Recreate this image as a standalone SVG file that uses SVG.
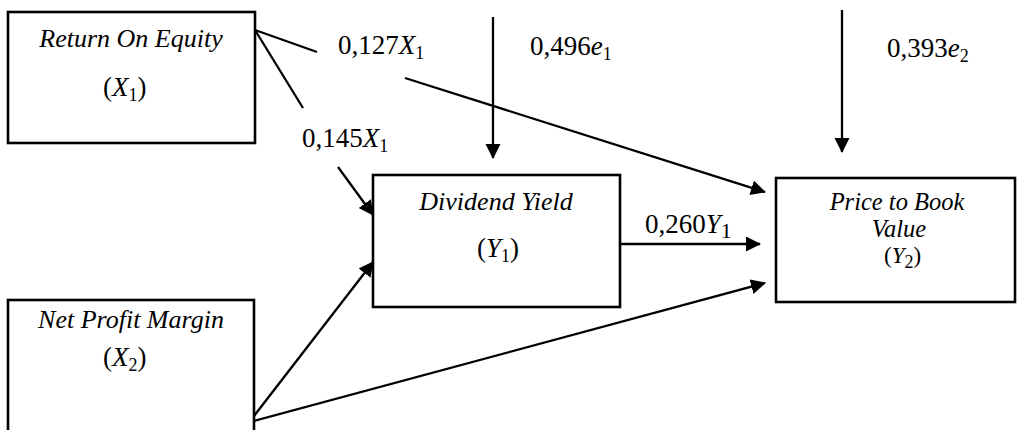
<svg xmlns="http://www.w3.org/2000/svg" width="1022" height="430" viewBox="0 0 1022 430">
<defs>
<marker id="ah" markerUnits="userSpaceOnUse" markerWidth="16" markerHeight="16" refX="14" refY="7.5" orient="auto">
<path d="M0,0 L15,7.5 L0,15 z" fill="#000"/>
</marker>
<style>
.box{fill:#fff;stroke:#000;stroke-width:2.6}
.t{font-family:"Liberation Serif","Times New Roman",serif;font-style:italic;font-size:26px;fill:#000;text-anchor:middle}
.p{font-size:24.5px}
.m{font-family:"Liberation Serif","Times New Roman",serif;font-size:27px;fill:#000}
.i{font-style:italic}
.s{font-size:18px}
.c line{stroke:#000;stroke-width:2.3;fill:none}
.c .a{marker-end:url(#ah)}
</style>
</defs>
<rect width="1022" height="430" fill="#fff"/>
<g class="c" id="connectors">
<line x1="255" y1="30" x2="317" y2="52"/>
<line class="a" x1="405" y1="78" x2="765" y2="192"/>
<line x1="255" y1="30" x2="303" y2="108"/>
<line class="a" x1="338" y1="167" x2="373" y2="215"/>
<line class="a" x1="493" y1="17" x2="493" y2="158"/>
<line class="a" x1="842" y1="10" x2="842" y2="152"/>
<line class="a" x1="620" y1="244" x2="760" y2="244"/>
<line class="a" x1="254" y1="416" x2="373" y2="262"/>
<line class="a" x1="254" y1="421" x2="765" y2="283"/>
</g>
<g id="roe">
<rect class="box" x="8" y="12" width="247" height="131"/>
<text class="t" x="131" y="47">Return On Equity</text>
<text class="m" x="103" y="96">(<tspan class="i">X</tspan><tspan class="s" dy="5">1</tspan><tspan dy="-5">)</tspan></text>
</g>
<g id="npm">
<rect class="box" x="8" y="300" width="246" height="150"/>
<text class="t" x="131" y="328">Net Profit Margin</text>
<text class="m" x="103" y="366">(<tspan class="i">X</tspan><tspan class="s" dy="5">2</tspan><tspan dy="-5">)</tspan></text>
</g>
<g id="dy">
<rect class="box" x="373" y="175" width="247" height="132"/>
<text class="t" x="496" y="210">Dividend Yield</text>
<text class="m" x="477" y="257">(<tspan class="i">Y</tspan><tspan class="s" dy="5">1</tspan><tspan dy="-5">)</tspan></text>
</g>
<g id="pbv">
<rect class="box" x="776" y="178" width="239" height="124"/>
<text class="t p" x="897" y="210">Price to Book</text>
<text class="t p" x="899" y="237">Value</text>
<text class="m" x="884" y="263" style="font-size:23px">(<tspan class="i">Y</tspan><tspan class="s" dy="5">2</tspan><tspan dy="-5">)</tspan></text>
</g>
<g id="labels">
<text class="m" x="338" y="54">0,127<tspan class="i">X</tspan><tspan class="s" dy="5">1</tspan></text>
<text class="m" x="530" y="55">0,496<tspan class="i">e</tspan><tspan class="s" dy="5">1</tspan></text>
<text class="m" x="887" y="57">0,393<tspan class="i">e</tspan><tspan class="s" dy="5">2</tspan></text>
<text class="m" x="302" y="147">0,145<tspan class="i">X</tspan><tspan class="s" dy="5">1</tspan></text>
<text class="m" x="645" y="233">0,260<tspan class="i">Y</tspan><tspan class="s" dy="5" style="font-size:22px">1</tspan></text>
</g>
</svg>
